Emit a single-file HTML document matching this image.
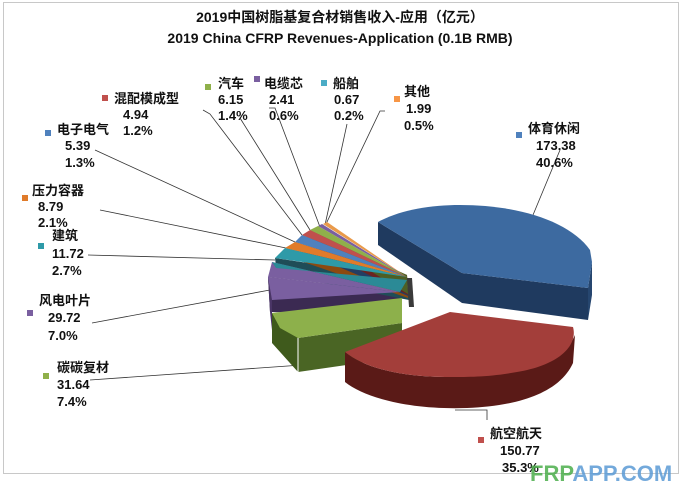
<!DOCTYPE html>
<html><head><meta charset="utf-8"><style>
body{margin:0;background:#fff;width:687px;height:497px;overflow:hidden}
svg text{font-family:"Liberation Sans","Noto Sans CJK SC",sans-serif;font-weight:bold;fill:#111}
</style></head><body>
<svg width="687" height="497" viewBox="0 0 687 497">
<rect x="3.5" y="2.5" width="675" height="471" fill="#fff" stroke="#c8c8c8"/>
<text x="340" y="22" font-size="14" text-anchor="middle">2019中国树脂基复合材销售收入-应用（亿元）</text>
<text x="340" y="43" font-size="14" text-anchor="middle">2019 China CFRP Revenues-Application (0.1B RMB)</text>

<g stroke="#333" stroke-width="0.8" fill="none">
<polyline points="533,215 560,150"/>
<polyline points="455,410 487,410 487,420"/>
<polyline points="90,380 302,365"/>
<polyline points="92,323 270,290"/>
<polyline points="88,255 275,260"/>
<polyline points="100,210 286,248"/>
<polyline points="95,150 295,242"/>
<polyline points="203,110 210,114 302,235"/>
<polyline points="240,118 310,230"/>
<polyline points="269,108 275,108 320,227"/>
<polyline points="347,124 325,225"/>
<polyline points="385,111 380,111 326,224"/>
</g>

<g>
<polygon points="268,277 400,292 402,315 270,312" fill="#3b2a52"/>
<polygon points="272,300 268,277 270,312 272,330" fill="#4a3566"/>
<polygon points="275,258 407,278 409,300 277,274" fill="#1f4d57"/>
<polygon points="285,248 407,276 408,298 286,256" fill="#8c4a10"/>
<polygon points="295,242 407,276 408,296 296,249" fill="#243e63"/>
<polygon points="302,235 407,275 408,295 303,241" fill="#6b2320"/>
<polygon points="310,230 407,275 408,294 311,235" fill="#4d5f25"/>
<polygon points="407,278 412,278 414,307 409,307" fill="#3a3a3a"/>
</g>
<polygon points="407,277 318,226 322,224" fill="#7a5fa0"/>
<polygon points="407,277 323,224 327,222" fill="#e99a4a"/>
<polygon points="407,277 310,230 318,226" fill="#8fb04a"/>
<polygon points="407,277 302,235 310,230" fill="#c0504d"/>
<polygon points="407,277 295,242 302,235" fill="#4f81bd"/>
<polygon points="407,277 285,248 295,242" fill="#e07b2a"/>
<polygon points="407,277 275,258 285,248" fill="#2e9aa8"/>
<polygon points="400,292 268,277 272,300" fill="#7a5fa0"/>
<polygon points="400,292 268,277 272,262" fill="#7a5fa0"/>
<polygon points="400,292 272,262 276,268 407,280" fill="#2b8a96"/>

<polygon points="272,313 298,338 298,372 272,343" fill="#3f5a1c"/>
<polygon points="298,338 402,323 402,357 298,372" fill="#4a6524"/>
<polygon points="402,298 272,313 280,328 298,338 402,323" fill="#8db04b"/>
<line x1="298" y1="338" x2="298" y2="372" stroke="#fff" stroke-width="1"/>

<polygon points="378,222 462,273 462,303 378,245" fill="#1f3a5f"/>
<polygon points="462,273 588,288 588,320 462,303" fill="#1f3a5f"/>
<polygon points="592,262 588,288 588,320 592,295" fill="#26466f"/>
<path d="M378,222 C400,210 430,205 460,205 C520,205 570,222 590,250 L592,262 L588,288 L462,273 Z" fill="#3d6aa0"/>

<path d="M345,352 L345,382 C365,398 410,410 467,408 C520,406 560,392 573,363 L575,335 C565,360 520,376 450,377 C400,377 365,368 345,352 Z" fill="#5a1a17"/>
<path d="M450,312 L573,327 C578,345 560,365 517,372 C490,377 470,377 450,377 C400,377 365,368 345,352 Z" fill="#a33e3a"/>

<g font-size="13">
<rect x="102" y="95" width="6" height="6" fill="#c0504d"/>
<text x="114" y="103">混配模成型</text>
<text x="123" y="119">4.94</text>
<text x="123" y="135">1.2%</text>
<rect x="205" y="84" width="6" height="6" fill="#8fb04a"/>
<text x="218" y="88">汽车</text>
<text x="218" y="104">6.15</text>
<text x="218" y="120">1.4%</text>
<rect x="254" y="76" width="6" height="6" fill="#7a5fa0"/>
<text x="264" y="88">电缆芯</text>
<text x="269" y="104">2.41</text>
<text x="269" y="120">0.6%</text>
<rect x="321" y="80" width="6" height="6" fill="#4bacc6"/>
<text x="333" y="88">船舶</text>
<text x="334" y="104">0.67</text>
<text x="334" y="120">0.2%</text>
<rect x="394" y="96" width="6" height="6" fill="#f79646"/>
<text x="404" y="96">其他</text>
<text x="406" y="113">1.99</text>
<text x="404" y="130">0.5%</text>
<rect x="516" y="132" width="6" height="6" fill="#4f81bd"/>
<text x="528" y="133">体育休闲</text>
<text x="536" y="150">173.38</text>
<text x="536" y="167">40.6%</text>
<rect x="45" y="130" width="6" height="6" fill="#4f81bd"/>
<text x="57" y="134">电子电气</text>
<text x="65" y="150">5.39</text>
<text x="65" y="167">1.3%</text>
<rect x="22" y="195" width="6" height="6" fill="#e07b2a"/>
<text x="32" y="195">压力容器</text>
<text x="38" y="211">8.79</text>
<text x="38" y="227">2.1%</text>
<rect x="38" y="243" width="6" height="6" fill="#2e9aa8"/>
<text x="52" y="240">建筑</text>
<text x="52" y="258">11.72</text>
<text x="52" y="275">2.7%</text>
<rect x="27" y="310" width="6" height="6" fill="#7a5fa0"/>
<text x="39" y="305">风电叶片</text>
<text x="48" y="322">29.72</text>
<text x="48" y="340">7.0%</text>
<rect x="43" y="373" width="6" height="6" fill="#8fb04a"/>
<text x="57" y="372">碳碳复材</text>
<text x="57" y="389">31.64</text>
<text x="57" y="406">7.4%</text>
<rect x="478" y="437" width="6" height="6" fill="#c0504d"/>
<text x="490" y="438">航空航天</text>
<text x="500" y="455">150.77</text>
<text x="502" y="472">35.3%</text>
</g>
<text x="530" y="481" font-size="22" style="fill:#4cae4c;opacity:.85">FRP<tspan style="fill:#5b9bd5">APP.COM</tspan></text>
</svg>
</body></html>
